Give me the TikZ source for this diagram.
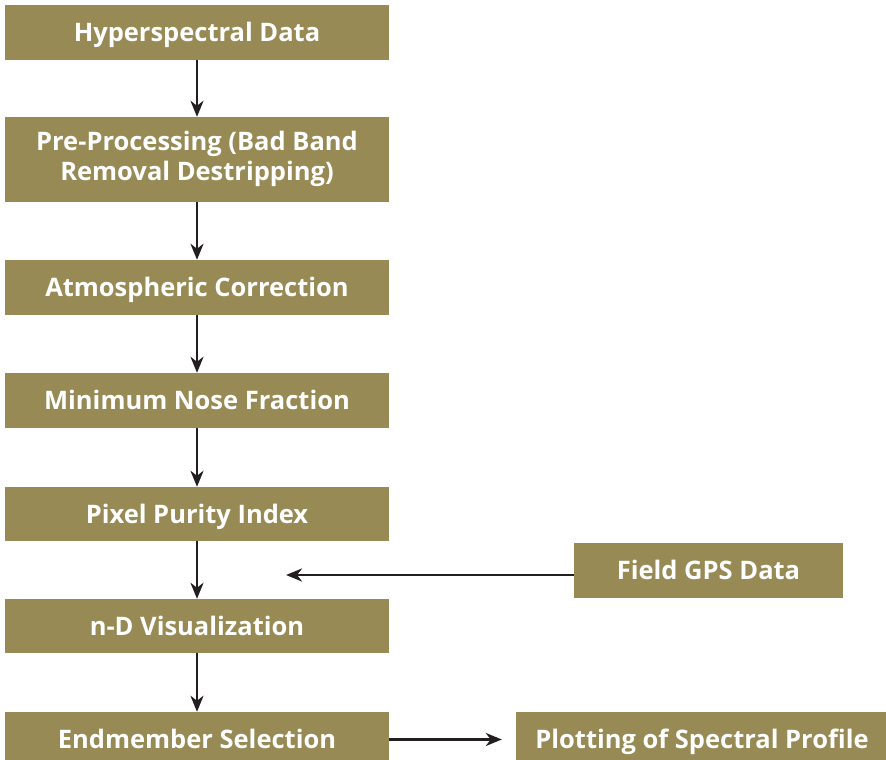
\documentclass[tikz,border=0pt]{standalone}
\usepackage{fontspec}
\setmainfont{Open Sans}
\usetikzlibrary{arrows.meta}
\definecolor{boxolive}{HTML}{978A54}
\definecolor{arrowblack}{HTML}{231F20}
\begin{document}
\begin{tikzpicture}[x=1pt,y=1pt,
  box/.style={fill=boxolive, draw=none, text=white, font=\fontsize{25.5}{30}\selectfont\bfseries, align=center, inner sep=0pt, text height=23pt, text depth=4.6pt},
  arr/.style={draw=arrowblack, line width=2.8pt, -{Stealth[length=16pt,width=13pt,inset=5pt]}}]
\useasboundingbox (0,0) rectangle (886,760);
\begin{scope}
\clip (0,0) rectangle (886,760);
\node[box, minimum width=384pt, minimum height=55pt] (hyp) at (197,727.5) {Hyperspectral Data};
\node[box, text height=, text depth=, minimum width=384pt, minimum height=85pt] (pre) at (197,600.5) {\raisebox{-2pt}{\begin{tabular}{@{}c@{}}Pre-Processing (Bad Band\\Removal Destripping)\end{tabular}}};
\node[box, minimum width=384pt, minimum height=55pt] (atm) at (197,472.5) {Atmospheric Correction};
\node[box, minimum width=384pt, minimum height=55pt] (mnf) at (197,359.5) {Minimum Nose Fraction};
\node[box, minimum width=384pt, minimum height=54pt] (ppi) at (197,246) {Pixel Purity Index};
\node[box, minimum width=384pt, minimum height=54pt] (ndv) at (197,134) {n-D Visualization};
\node[box, minimum width=384pt, minimum height=55pt] (ems) at (197,20.5) {Endmember Selection};
\node[box, minimum width=269pt, minimum height=55pt] (gps) at (708.5,189.5) {Field GPS Data};
\node[box, minimum width=372pt, minimum height=55pt] (plot) at (702,20.5) {Plotting of Spectral Profile};
\end{scope}
\draw[arr] (hyp) -- (pre);
\draw[arr] (pre) -- (atm);
\draw[arr] (atm) -- (mnf);
\draw[arr] (mnf) -- (ppi);
\draw[arr] (ppi) -- (ndv);
\draw[arr] (ndv) -- (ems);
\coordinate (gpsend) at (286,185);
\draw[arr] (gps.west |- gpsend) -- (gpsend);
\draw[arr, shorten >=14pt] (ems.east) -- (plot.west);
\end{tikzpicture}
\end{document}
